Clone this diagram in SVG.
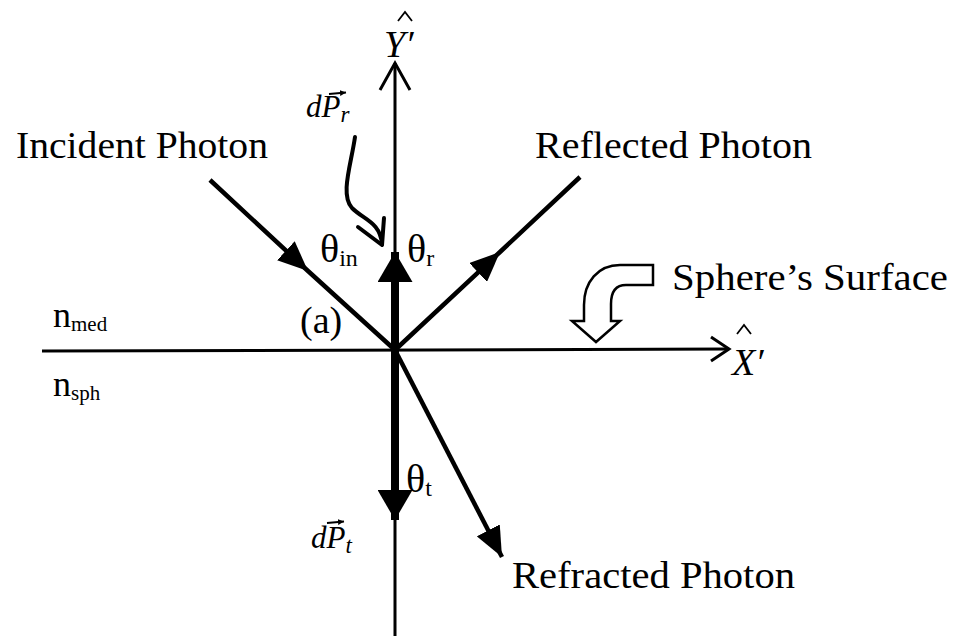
<svg xmlns="http://www.w3.org/2000/svg" width="959" height="636" viewBox="0 0 959 636">
<style>
text { font-family: "Liberation Serif", "Times New Roman", serif; fill: #000; }
.lbl { font-size: 38px; }
.it { font-style: italic; }
.ax { stroke: #000; stroke-width: 3; fill: none; }
.ray { stroke: #000; stroke-width: 4.5; fill: none; }
.thick { stroke: #000; stroke-width: 8; fill: none; }
.vec { stroke: #000; stroke-width: 1.8; fill: none; }
.hat { stroke: #000; stroke-width: 1.8; fill: none; stroke-linejoin: miter; }
</style>
<defs>
<marker id="tri" markerUnits="userSpaceOnUse" markerWidth="30" markerHeight="26" viewBox="0 0 30 26" refX="30" refY="13" orient="auto"><path d="M0,0 L30,13 L0,26 Z" fill="#000"/></marker>
<marker id="triW" markerUnits="userSpaceOnUse" markerWidth="30" markerHeight="35" viewBox="0 0 30 35" refX="30" refY="17.5" orient="auto"><path d="M0,0 L30,17.5 L0,35 Z" fill="#000"/></marker>
<marker id="vhead" markerUnits="userSpaceOnUse" markerWidth="6" markerHeight="6" viewBox="0 0 6 6" refX="6" refY="3" orient="auto"><path d="M0,0 L6,3 L0,6 Z" fill="#000"/></marker>
</defs>
<rect width="959" height="636" fill="#fff"/>
<g id="connectors">
  <path id="x-axis" class="ax" d="M42 351 L729 349"/>
  <polyline class="ax" points="711,337 729,349 711,361"/>
  <path id="y-axis" class="ax" d="M395 636 L395 63"/>
  <polyline class="ax" points="380,90 395,63 410,90"/>
  <path id="incident" class="ray" d="M210 180 L308 271 L395 350" marker-mid="url(#tri)"/>
  <path id="reflected" class="ray" d="M395 350 L500 252 L580 177" marker-mid="url(#tri)"/>
  <path id="refracted" class="ray" d="M395 350 L502 557" marker-end="url(#tri)"/>
  <path id="dPr-arrow" class="thick" d="M395 352 L395 252" marker-end="url(#triW)"/>
  <path id="dPt-arrow" class="thick" d="M395 348 L395 520" marker-end="url(#triW)"/>
  <path id="dPr-pointer" d="M355 137 C 351 165, 340 195, 352 208 C 364 220, 380 222, 382 244" stroke="#000" stroke-width="4" fill="none" stroke-linecap="round"/>
  <polyline points="358,227 382,245 384,218" stroke="#000" stroke-width="4" fill="none" stroke-linecap="round" stroke-linejoin="round"/>
  <path id="surface-pointer" d="M653 265 L620 265 C 598 265, 584 282, 584 305 L 584 321 L 572 321 L 596 342 L 620 321 L 611 321 L 611 304 C 611 292, 616 285, 626 285 L 653 285 Z" fill="#fff" stroke="#000" stroke-width="2.5" stroke-linejoin="miter"/>
</g>
<g id="incident-label"><text class="lbl" x="16" y="158" textLength="252" lengthAdjust="spacingAndGlyphs">Incident Photon</text></g>
<g id="reflected-label"><text class="lbl" x="535" y="158" textLength="277" lengthAdjust="spacingAndGlyphs">Reflected Photon</text></g>
<g id="surface-label"><text class="lbl" x="672" y="290" textLength="276" lengthAdjust="spacingAndGlyphs">Sphere’s Surface</text></g>
<g id="refracted-label"><text class="lbl" x="512" y="588" textLength="283" lengthAdjust="spacingAndGlyphs">Refracted Photon</text></g>
<g id="n-med"><text x="53" y="327" font-size="36">n<tspan font-size="21" dy="4">med</tspan></text></g>
<g id="n-sph"><text x="53" y="396" font-size="36">n<tspan font-size="21" dy="4">sph</tspan></text></g>
<g id="a-label"><text x="300" y="333" font-size="38">(a)</text></g>
<g id="theta-in"><text x="320" y="262" font-size="40">θ<tspan font-size="24" dy="4">in</tspan></text></g>
<g id="theta-r"><text x="407" y="262" font-size="40">θ<tspan font-size="24" dy="4">r</tspan></text></g>
<g id="theta-t"><text x="406" y="492" font-size="40">θ<tspan font-size="24" dy="4">t</tspan></text></g>
<g id="dPr-label">
  <text class="it" x="306" y="117" font-size="31">dP<tspan font-size="23" dy="5">r</tspan></text>
  <path class="vec" d="M329 94 L346 92.5" marker-end="url(#vhead)"/>
</g>
<g id="dPt-label">
  <text class="it" x="311" y="548" font-size="31">dP<tspan font-size="23" dy="5">t</tspan></text>
  <path class="vec" d="M327 523 L344 521.5" marker-end="url(#vhead)"/>
</g>
<g id="y-label">
  <text class="it" x="384" y="57" font-size="38">Y′</text>
  <polyline class="hat" points="398,21 405,12 412,21"/>
</g>
<g id="x-label">
  <text class="it" x="732" y="375" font-size="38">X′</text>
  <polyline class="hat" points="737,334 744,325 751,334"/>
</g>
</svg>
